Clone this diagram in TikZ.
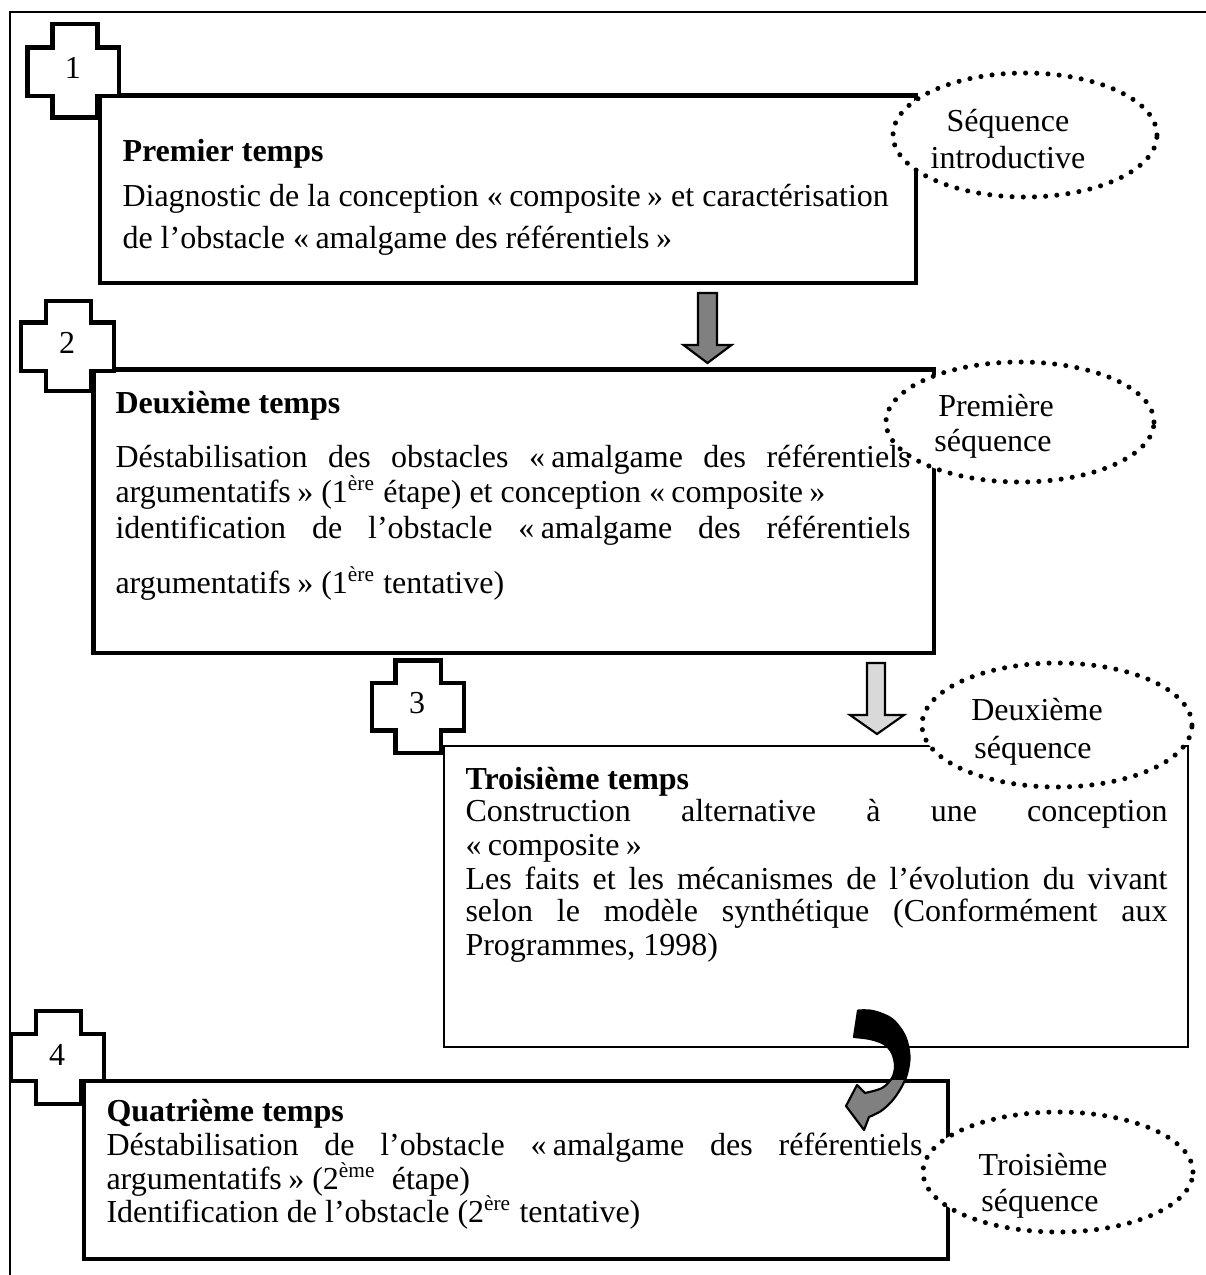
\documentclass[tikz,border=0pt]{standalone}
\usepackage{fontspec}
\setmainfont{Liberation Serif}
\usetikzlibrary{fit,shapes.geometric}
\newcommand\gs{\kern0.2em}
\newcommand\mycross[8]{\draw[crossline] (#2,#5) -- (#3,#5) -- (#3,#6) -- (#4,#6) -- (#4,#7) -- (#3,#7) -- (#3,#8) -- (#2,#8) -- (#2,#7) -- (#1,#7) -- (#1,#6) -- (#2,#6) -- cycle;}
\newcommand\carrowpath{(854,1037) -- (858,1010.5) -- plot[smooth,tension=0.55] coordinates {(858,1010.5) (873,1011) (892,1019) (905,1036) (909.5,1056) (907,1074) (901,1088) (892,1101) (881,1111) (869,1117)} -- (864,1130) -- (846,1106) -- (857,1085) -- plot[smooth,tension=0.55] coordinates {(865,1093) (882,1088) (892,1078) (895,1066) (892,1053) (884,1044) (870,1039) (854,1037)} -- cycle}
\begin{document}
\begin{tikzpicture}[x=0.375pt,y=-0.375pt,
  txt/.style={inner sep=0pt, anchor=base west, font=\fontsize{12}{14}\selectfont},
  hd/.style={inner sep=0pt, anchor=base west, font=\fontsize{12}{14}\selectfont\bfseries},
  num/.style={inner sep=0pt, anchor=base, font=\fontsize{12}{14}\selectfont},
  lbl/.style={inner sep=0pt, anchor=base, font=\fontsize{12}{14}\selectfont},
  thickbox/.style={draw, line width=1.7pt, inner sep=0pt},
  thinbox/.style={draw, line width=0.75pt, inner sep=0pt},
  crossline/.style={draw, fill=white, line width=1.8pt, line join=miter},
  seq/.style={ellipse, draw, fill=white, line width=1.9pt, dash pattern=on 0pt off 4.2pt, line cap=round, inner sep=0pt},
  blockarrow/.style={draw, line width=0.8pt, line join=miter}
]
\useasboundingbox (0,0) rectangle (1206,1275);
% outer frame
\draw[line width=0.75pt] (1206,11.5) -- (10,11.5) -- (10,1275);
% boxes
\coordinate (b1a) at (100,95.5); \coordinate (b1b) at (916,283);
\node[thickbox, fit=(b1a)(b1b)] (box1) {};
\coordinate (b2a) at (93.3,369.7); \coordinate (b2b) at (934,653);
\node[thickbox, fit=(b2a)(b2b)] (box2) {};
\coordinate (b3a) at (443.7,746); \coordinate (b3b) at (1188,1047);
\node[thinbox, fit=(b3a)(b3b)] (box3) {};
\coordinate (b4a) at (84,1081); \coordinate (b4b) at (948,1259);
\node[thickbox, fit=(b4a)(b4b)] (box4) {};
% crosses
\mycross{27.5}{52.5}{97.5}{119}{24}{47.5}{96}{117.5}
\mycross{21}{46}{91}{114}{301}{322.5}{371}{391}
\mycross{372}{395.5}{441}{464}{660.5}{683}{730.5}{753}
\mycross{11}{36}{81}{104}{1011}{1034}{1081}{1104}
% block arrows
\draw[blockarrow, fill=black!50] (698,293) -- (717,293) -- (717,345) -- (731.5,345) -- (707.5,363) -- (683.5,345) -- (698,345) -- cycle;
\draw[blockarrow, fill=black!15] (867,663) -- (885,663) -- (885,715) -- (904,715) -- (877,734) -- (850,715) -- (867,715) -- cycle;
% curved arrow
\fill[black!50] \carrowpath;
\begin{scope}
\clip (820,1000) rectangle (930,1079);
\fill[black] \carrowpath;
\end{scope}
\draw[line width=0.8pt, line join=round] \carrowpath;
% ellipses
\node[seq, minimum width=99pt, minimum height=46.5pt] (e1) at (1025,135) {};
\node[seq, minimum width=100.5pt, minimum height=45pt] (e2) at (1020,422) {};
\node[seq, minimum width=101.25pt, minimum height=46.5pt] (e3) at (1057,725) {};
\node[seq, minimum width=101.25pt, minimum height=45pt] (e4) at (1058,1172) {};
% numbers
\node[num] (n1) at (73,78) {1};
\node[num] (n2) at (67,353) {2};
\node[num] (n3) at (417,713) {3};
\node[num] (n4) at (57,1065) {4};
% box 1 text
\node[hd] (t1h) at (122,161) {Premier temps};
\node[txt] (t1a) at (122,206) {Diagnostic de la conception «\gs composite\gs» et caractérisation};
\node[txt] (t1b) at (122,248) {de l’obstacle «\gs amalgame des référentiels\gs»};
% box 2 text
\node[hd] (t2h) at (115,413) {Deuxième temps};
\node[txt] (t2a) at (115,467) {\makebox[298.1pt][s]{Déstabilisation des obstacles «\gs amalgame des référentiels}};
\node[txt] (t2b) at (115,502) {argumentatifs\gs» (1\textsuperscript{ère} étape) et conception «\gs composite\gs»};
\node[txt] (t2c) at (115,538) {\makebox[298.1pt][s]{identification de l’obstacle «\gs amalgame des référentiels}};
\node[txt] (t2d) at (115,593) {argumentatifs\gs» (1\textsuperscript{ère} tentative)};
% box 3 text
\node[hd] (t3h) at (465,789) {Troisième temps};
\node[txt] (t3a) at (465,821) {\makebox[263.25pt][s]{Construction alternative à une conception}};
\node[txt] (t3b) at (465,855) {«\gs composite\gs»};
\node[txt] (t3c) at (465,889) {\makebox[263.25pt][s]{Les faits et les mécanismes de l’évolution du vivant}};
\node[txt] (t3d) at (465,921) {\makebox[263.25pt][s]{selon le modèle synthétique (Conformément aux}};
\node[txt] (t3e) at (465,955) {Programmes, 1998)};
% box 4 text
\node[hd] (t4h) at (106,1121) {Quatrième temps};
\node[txt] (t4a) at (106,1155) {\makebox[306pt][s]{Déstabilisation de l’obstacle «\gs amalgame des référentiels}};
\node[txt] (t4b) at (106,1189) {argumentatifs\gs» (2\textsuperscript{ème}\ \ étape)};
\node[txt] (t4c) at (106,1222) {Identification de l’obstacle (2\textsuperscript{ère} tentative)};
% ellipse labels
\node[lbl] (s1a) at (1008,131) {Séquence};
\node[lbl] (s1b) at (1008,168) {introductive};
\node[lbl] (s2a) at (996,416) {Première};
\node[lbl] (s2b) at (993,451) {séquence};
\node[lbl] (s3a) at (1037,720) {Deuxième};
\node[lbl] (s3b) at (1033,758) {séquence};
\node[lbl] (s4a) at (1043,1175) {Troisième};
\node[lbl] (s4b) at (1040,1211) {séquence};
\end{tikzpicture}
\end{document}
